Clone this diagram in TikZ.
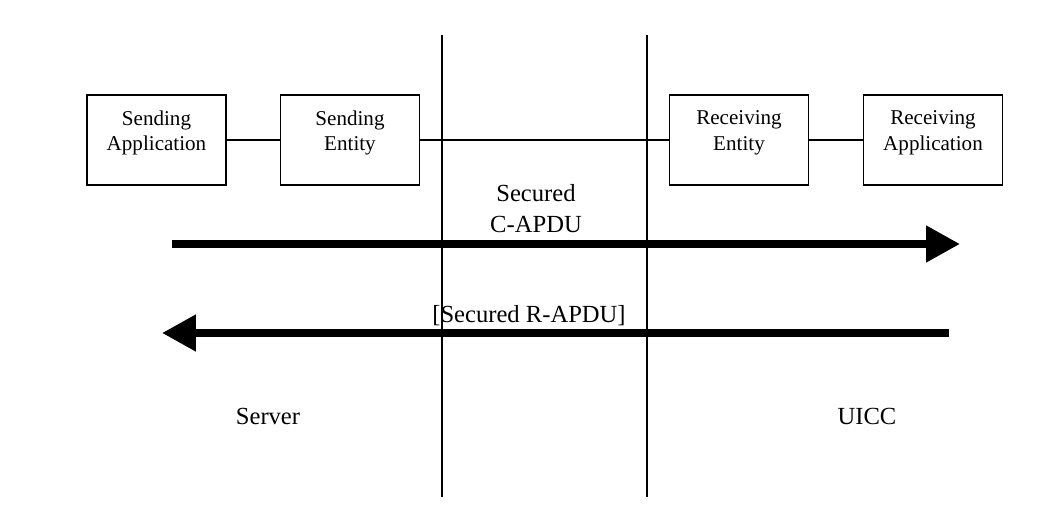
\documentclass[tikz,border=0pt]{standalone}
\usepackage{fontspec}
\setmainfont{Liberation Serif}
\usepackage{tikz}
\usetikzlibrary{positioning, arrows.meta}

\begin{document}
\begin{tikzpicture}[x=0.02cm, y=-0.02cm]
	\tikzstyle{entitybox}=[rectangle, draw=black, line width=0.6pt, minimum width=2.78cm, minimum height=1.8cm, align=center, text depth=0.38cm, font=\fontsize{12}{14.5}\selectfont]
	\tikzstyle{label}=[align=center, font=\fontsize{14}{17.6}\selectfont]
	\tikzstyle{flow}=[line width=4.5pt, -{Triangle[length=0.68cm, width=0.7cm]}]

	\useasboundingbox (0,0) rectangle (1060,519);

	% boxes
	\node[entitybox] (send-app) at (156.5, 140) {Sending\\Application};
	\node[entitybox] (send-ent) at (350, 140) {Sending\\Entity};
	\node[entitybox] (recv-ent) at (739, 140) {Receiving\\Entity};
	\node[entitybox] (recv-app) at (933, 140) {Receiving\\Application};

	\draw[line width=0.6pt] (send-app.east) -- (send-ent.west);
	\draw[line width=0.6pt] (send-ent.east) -- (recv-ent.west);
	\draw[line width=0.6pt] (recv-ent.east) -- (recv-app.west);

	% boundaries
	\foreach \x/\n in {442/left, 647/right}{
		\coordinate (top-\n) at (\x, 35);
		\coordinate (bot-\n) at (\x, 497);
		\draw[line width=0.6pt] (top-\n) -- (bot-\n);
	}

	% messages
	\coordinate (cmd-start) at (172, 244);
	\coordinate (cmd-end) at (960, 244);
	\draw[flow] (cmd-start) -- (cmd-end);
	\node[label] (cmd-label) at (536, 209) {Secured\\C-APDU};

	\coordinate (rsp-start) at (949, 333);
	\coordinate (rsp-end) at (162, 333);
	\draw[flow] (rsp-start) -- (rsp-end);
	\node[label, anchor=base] (rsp-label) at (529, 323) {[Secured R-APDU]};

	\node[label, anchor=base] (server) at (268, 425) {Server};
	\node[label, anchor=base] (uicc) at (867, 425) {UICC};
\end{tikzpicture}
\end{document}
